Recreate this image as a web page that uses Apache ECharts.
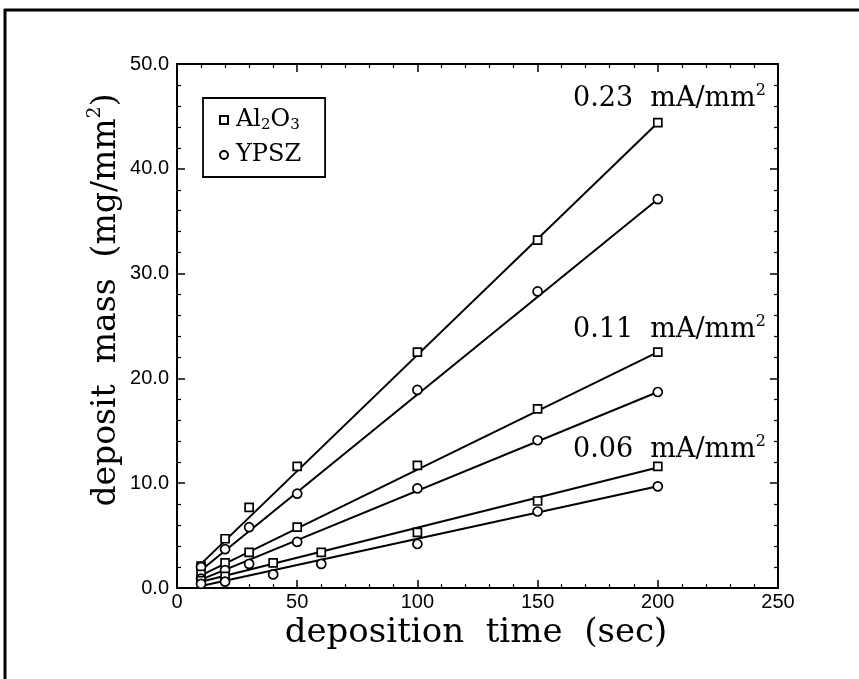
<!DOCTYPE html>
<html>
<head>
<meta charset="utf-8">
<script src="https://cdn.jsdelivr.net/npm/echarts@6/dist/echarts.min.js"></script>
<style>
html,body{margin:0;padding:0;background:#fff;}
#c{width:859px;height:679px;}
</style>
</head>
<body>
<div id="c"></div>
<script>
// ---- data ----
const timesA = [10, 20, 30, 50, 100, 150, 200];      // 0.23 and 0.11 mA/mm2
const timesB = [10, 20, 40, 60, 100, 150, 200];      // 0.06 mA/mm2
const al023 = [2.1, 4.7, 7.7, 11.6, 22.5, 33.2, 44.4];
const yp023 = [2.0, 3.7, 5.8, 9.0, 18.9, 28.3, 37.1];
const al011 = [1.3, 2.4, 3.4, 5.8, 11.7, 17.1, 22.5];
const yp011 = [0.9, 1.7, 2.3, 4.4, 9.5, 14.1, 18.7];
const al006 = [0.7, 1.1, 2.4, 3.4, 5.3, 8.3, 11.6];
const yp006 = [0.4, 0.6, 1.3, 2.3, 4.2, 7.3, 9.7];
// fitted straight lines: value at t = 10 s and t = 200 s
const fitTimes = [10, 200];
const fitAl023 = [2.3, 44.4];
const fitYp023 = [1.7, 37.1];
const fitAl011 = [1.2, 22.5];
const fitYp011 = [0.8, 18.7];
const fitAl006 = [0.6, 11.5];
const fitYp006 = [0.2, 9.7];
const xTicks = [0, 50, 100, 150, 200, 250];
const yTicks = [0, 10, 20, 30, 40, 50];
const currentLabels = ['0.23', '0.11', '0.06'];

const SERIF = '"DejaVu Serif", serif';
const SANS = '"Liberation Sans", Arial, sans-serif';

function pairs(xs, ys){ return xs.map((x,i)=>[x, ys[i]]); }

const groups = [
  {name:'Al2O3', sym:'rect',   t:timesA, v:al023, f:fitAl023},
  {name:'YPSZ',  sym:'circle', t:timesA, v:yp023, f:fitYp023},
  {name:'Al2O3', sym:'rect',   t:timesA, v:al011, f:fitAl011},
  {name:'YPSZ',  sym:'circle', t:timesA, v:yp011, f:fitYp011},
  {name:'Al2O3', sym:'rect',   t:timesB, v:al006, f:fitAl006},
  {name:'YPSZ',  sym:'circle', t:timesB, v:yp006, f:fitYp006}
];

const series = [];
groups.forEach(g=>{
  series.push({
    type:'line', data:pairs(fitTimes, g.f), showSymbol:false, silent:true,
    lineStyle:{color:'#000', width:2}, z:2, animation:false
  });
});
groups.forEach(g=>{
  series.push({
    type:'scatter', name:g.name, data:pairs(g.t, g.v), symbol:g.sym,
    symbolSize: g.sym==='rect' ? 8 : 9,
    itemStyle:{color:'#fff', borderColor:'#000', borderWidth:1.7, opacity:1},
    z:3, animation:false
  });
});

function tickCommon(){
  return {
    axisLine:{show:true, onZero:false, lineStyle:{color:'#000', width:2}},
    axisTick:{show:true, inside:true, length:8, lineStyle:{color:'#000', width:1.5}},
    minorTick:{show:true, splitNumber:5, length:4, lineStyle:{color:'#000', width:1.2}},
    splitLine:{show:false}
  };
}

const chart = echarts.init(document.getElementById('c'), null, {renderer:'canvas'});
chart.setOption({
  animation:false,
  backgroundColor:'#fff',
  grid:{left:177, right:81, top:64, bottom:91, containLabel:false},
  xAxis:[
    Object.assign({
      type:'value', min:xTicks[0], max:xTicks[xTicks.length-1], interval:50, position:'bottom',
      axisLabel:{fontFamily:SANS, fontSize:20, color:'#000', margin:4}
    }, tickCommon()),
    Object.assign({
      type:'value', min:xTicks[0], max:xTicks[xTicks.length-1], interval:50, position:'top',
      axisLabel:{show:false}
    }, tickCommon())
  ],
  yAxis:[
    Object.assign({
      type:'value', min:yTicks[0], max:yTicks[yTicks.length-1], interval:10, position:'left',
      axisLabel:{fontFamily:SANS, fontSize:20, color:'#000', margin:8,
                 formatter:v=>v.toFixed(1)}
    }, tickCommon()),
    Object.assign({
      type:'value', min:yTicks[0], max:yTicks[yTicks.length-1], interval:10, position:'right',
      axisLabel:{show:false}
    }, tickCommon())
  ],
  legend:{
    show:true, orient:'vertical', left:203, top:98, width:124,
    data:['Al2O3','YPSZ'], itemWidth:8, itemHeight:8, itemGap:10,
    borderColor:'#000', borderWidth:1.8, padding:[10, 24, 10, 16],
    backgroundColor:'#fff',
    formatter:n=> n==='Al2O3' ? '{p|}{a|Al}{b|2}{a|O}{b|3}' : '{p|}{a|YPSZ}',
    textStyle:{fontFamily:SERIF, fontSize:24, color:'#000',
      rich:{p:{width:3},
            a:{fontFamily:SERIF, fontSize:24, color:'#000', lineHeight:26},
            b:{fontFamily:SERIF, fontSize:15, color:'#000', verticalAlign:'bottom', lineHeight:22}}},
    selectedMode:false
  },
  series: series
});

const els = currentLabels.map((c, i)=>{
  const ypos = [99, 330, 450][i];
  return {
    type:'text', x:573, y:ypos, silent:true,
    style:{
      text:'{n|'+c+'  mA/mm}{s|2}', verticalAlign:'middle', align:'left',
      rich:{n:{fontFamily:SERIF, fontSize:27, fill:'#000', lineHeight:32},
            s:{fontFamily:SERIF, fontSize:16, fill:'#000', verticalAlign:'top', lineHeight:32}}
    }
  };
});
// axis titles
els.push({
  type:'text', x:476, y:633, silent:true,
  style:{text:'deposition  time  (sec)', font:'34px '+SERIF, fill:'#000', align:'center', verticalAlign:'middle'}
});
els.push({
  type:'text', x:106, y:300, rotation:Math.PI/2, silent:true,
  style:{
    text:'{n|deposit  mass  (mg/mm}{s|2}{n|)}', align:'center', verticalAlign:'middle',
    rich:{n:{fontFamily:SERIF, fontSize:33, fill:'#000', lineHeight:40},
          s:{fontFamily:SERIF, fontSize:19, fill:'#000', verticalAlign:'top', lineHeight:40}}
  }
});
// outer frame (top & left edges visible in the reference)
els.push({type:'line', silent:true, shape:{x1:4, y1:10, x2:859, y2:10}, style:{stroke:'#000', lineWidth:3}});
els.push({type:'line', silent:true, shape:{x1:5, y1:9, x2:5, y2:679}, style:{stroke:'#000', lineWidth:3}});
chart.setOption({graphic:els});
</script>
</body>
</html>
